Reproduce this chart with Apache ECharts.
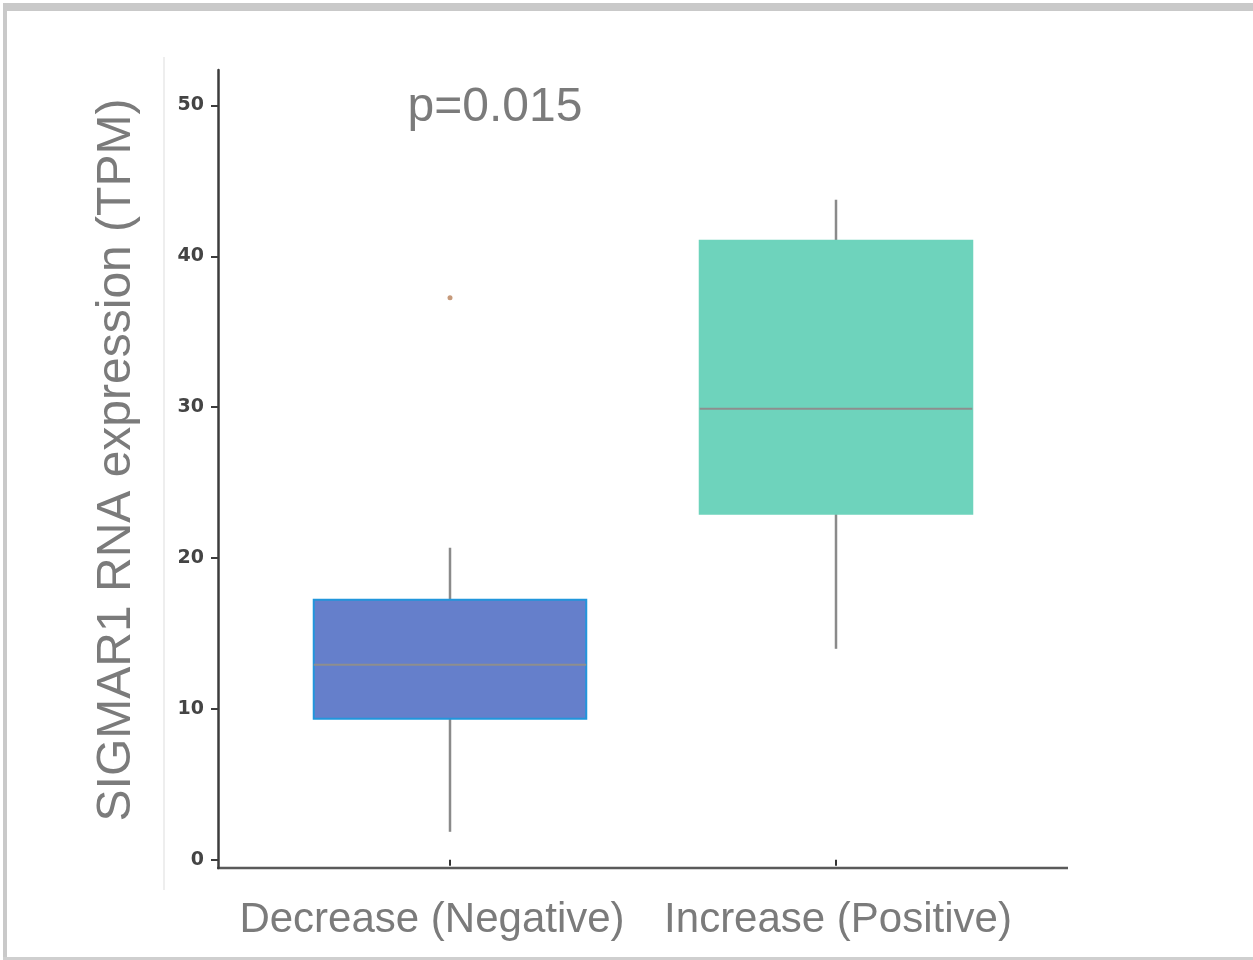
<!DOCTYPE html>
<html>
<head>
<meta charset="utf-8">
<title>SIGMAR1 RNA expression</title>
<script src="https://cdn.jsdelivr.net/npm/echarts@6/dist/echarts.min.js"></script>
<style>
  html, body { margin: 0; padding: 0; background: #ffffff; }
  #chart { width: 1253px; height: 960px; }
</style>
</head>
<body>
<div id="chart"></div>
<script>
// Groups and their box statistics: [min, Q1, median, Q3, max]
const categories = ['Decrease (Negative)', 'Increase (Positive)'];
const lowWhisker = [1.85, 13.98];
const q1Values = [9.35, 22.93];
const medians = [12.92, 29.89];
const q3Values = [17.23, 41.03];
const highWhisker = [20.68, 43.75];
// Outlying points: [group index, value]
const outliers = [[0, 37.25]];
const yTicks = [0, 10, 20, 30, 40, 50];
const pValueText = 'p=0.015';
const yAxisTitle = 'SIGMAR1 RNA expression (TPM)';

const boxData = categories.map((c, i) => [i, lowWhisker[i], q1Values[i], medians[i], q3Values[i], highWhisker[i]]);

// Box appearance per group
const boxFill = ['#657fcb', '#6ed3bc'];
const boxStroke = ['#2196dc', '#6ed3bc'];
const whiskerColor = '#8a8a8a';
const medianColor = '#8e8e8e';
const textGray = '#7b7b7b';

const chart = echarts.init(document.getElementById('chart'));

function renderBox(params, api) {
  const idx = api.value(0);
  const half = api.size([1, 0])[0] * 0.353;
  const pLow = api.coord([idx, api.value(1)]);
  const pQ1 = api.coord([idx, api.value(2)]);
  const pMed = api.coord([idx, api.value(3)]);
  const pQ3 = api.coord([idx, api.value(4)]);
  const pHigh = api.coord([idx, api.value(5)]);
  const x = pMed[0];
  return {
    type: 'group',
    children: [
      { type: 'line', shape: { x1: x, y1: pQ3[1], x2: x, y2: pHigh[1] },
        style: { stroke: whiskerColor, lineWidth: 2.5 } },
      { type: 'line', shape: { x1: x, y1: pQ1[1], x2: x, y2: pLow[1] },
        style: { stroke: whiskerColor, lineWidth: 2.5 } },
      { type: 'rect', shape: { x: x - half, y: pQ3[1], width: half * 2, height: pQ1[1] - pQ3[1] },
        style: { fill: boxFill[idx], stroke: boxStroke[idx], lineWidth: 2 } },
      { type: 'line', shape: { x1: x - half, y1: pMed[1], x2: x + half, y2: pMed[1] },
        style: { stroke: medianColor, lineWidth: 2 } }
    ]
  };
}

const option = {
  backgroundColor: '#ffffff',
  animation: false,
  grid: { left: 257, right: 224, top: 70, bottom: 92, containLabel: false },
  xAxis: {
    type: 'category',
    data: categories,
    boundaryGap: true,
    axisLine: { show: false },
    axisTick: { show: true, alignWithLabel: true, length: 6, lineStyle: { color: '#333', width: 2 } },
    axisLabel: {
      margin: 31,
      formatter: (v, i) => '{c' + i + '|' + v + '}',
      rich: {
        c0: { fontFamily: 'Liberation Sans', fontSize: 42, color: textGray, padding: [0, 36, 0, 0] },
        c1: { fontFamily: 'Liberation Sans', fontSize: 42, color: textGray, padding: [0, 0, 0, 4] }
      }
    },
    splitLine: { show: false }
  },
  yAxis: {
    type: 'value',
    min: -0.55,
    max: 52.35,
    offset: 39,
    axisLine: { show: true, lineStyle: { color: '#3c3c3c', width: 2.5 } },
    axisTick: { show: true, length: 7, customValues: yTicks, lineStyle: { color: '#3c3c3c', width: 2 } },
    axisLabel: {
      customValues: yTicks,
      margin: 14,
      fontFamily: 'DejaVu Sans',
      fontWeight: 'bold',
      fontSize: 19,
      color: '#444'
    },
    splitLine: { show: false }
  },
  series: [
    {
      type: 'custom',
      renderItem: renderBox,
      data: boxData,
      encode: { x: 0, y: [1, 2, 3, 4, 5] },
      z: 2
    },
    {
      type: 'scatter',
      data: outliers,
      symbol: 'circle',
      symbolSize: 5,
      itemStyle: { color: '#b8815a' },
      z: 3
    }
  ],
  graphic: [
    // outer frame
    { type: 'rect', shape: { x: 3, y: 3, width: 1250, height: 8, r: [3, 0, 0, 0] }, style: { fill: '#c9c9c9' }, silent: true },
    { type: 'rect', shape: { x: 3, y: 3, width: 4, height: 957 }, style: { fill: '#c9c9c9' }, silent: true },
    { type: 'rect', shape: { x: 3, y: 957, width: 1250, height: 3 }, style: { fill: '#cfcfcf' }, silent: true },
    // faint guide line left of the axis
    { type: 'line', shape: { x1: 164, y1: 57, x2: 164, y2: 890 }, style: { stroke: '#e8e8e8', lineWidth: 1.5 }, silent: true },
    // horizontal axis line spanning the full plot width
    { type: 'line', shape: { x1: 217, y1: 868, x2: 1068, y2: 868 }, style: { stroke: '#5a5a5a', lineWidth: 2.5 }, silent: true },
    // vertical axis title
    { type: 'text', x: 117, y: 460, rotation: Math.PI / 2,
      style: { text: yAxisTitle, fontFamily: 'Liberation Sans', fontSize: 48, fill: textGray, align: 'center', verticalAlign: 'middle' } },
    // test result annotation
    { type: 'text', x: 495, y: 108,
      style: { text: pValueText, fontFamily: 'Liberation Sans', fontSize: 48, fill: textGray, align: 'center', verticalAlign: 'middle' } }
  ]
};

chart.setOption(option);
</script>
</body>
</html>
